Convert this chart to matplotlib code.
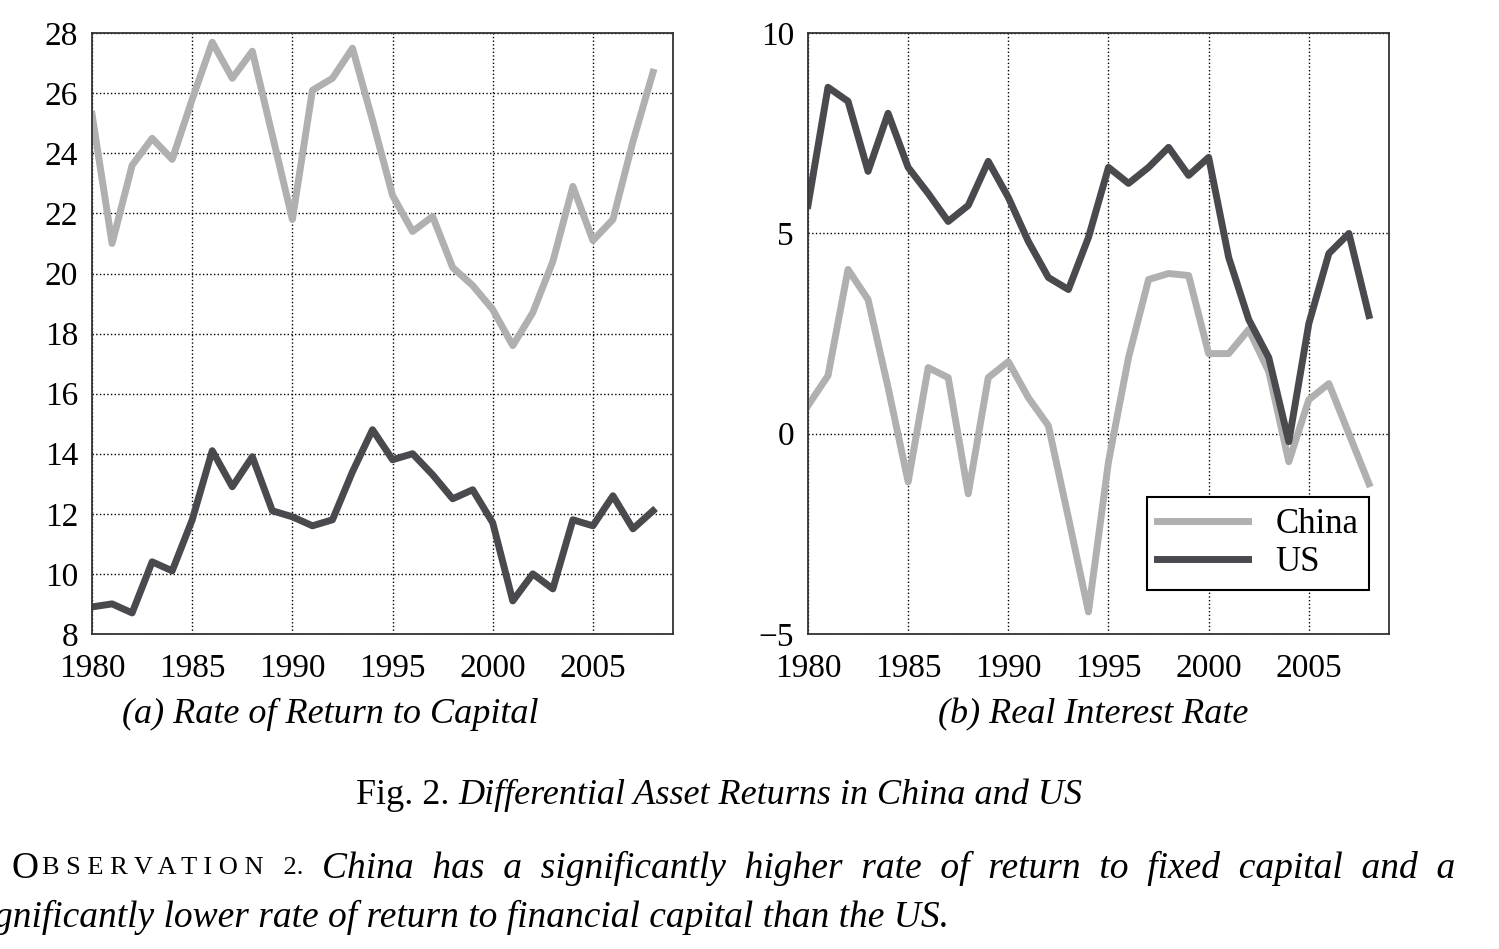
import numpy as np
import matplotlib.pyplot as plt

years = np.arange(1980, 2009)

china_ret = [25.3, 21.0, 23.6, 24.5, 23.8, 25.8, 27.7, 26.5, 27.4, 24.6, 21.8, 26.1, 26.5, 27.5, 25.1,
             22.6, 21.4, 21.9, 20.2, 19.6, 18.8, 17.6, 18.7, 20.4, 22.9, 21.1, 21.8, 24.4, 26.7]
us_ret = [8.9, 9.0, 8.7, 10.4, 10.1, 11.8, 14.1, 12.9, 13.9, 12.1, 11.9, 11.6, 11.8, 13.4, 14.8,
          13.8, 14.0, 13.3, 12.5, 12.8, 11.7, 9.1, 10.0, 9.5, 11.8, 11.6, 12.6, 11.5, 12.1]
china_rate = [0.7, 1.45, 4.1, 3.35, 1.15, -1.2, 1.65, 1.4, -1.5, 1.4, 1.8, 0.9, 0.2, -2.1, -4.45,
              -0.7, 1.9, 3.85, 4.0, 3.95, 2.0, 2.0, 2.6, 1.55, -0.7, 0.85, 1.25, 0.0, -1.25]
us_rate = [5.7, 8.65, 8.3, 6.55, 8.0, 6.65, 6.0, 5.3, 5.7, 6.8, 5.9, 4.8, 3.9, 3.6, 4.9,
           6.65, 6.25, 6.65, 7.15, 6.45, 6.9, 4.4, 2.85, 1.9, -0.2, 2.75, 4.5, 5.0, 2.95]

plt.rcParams['font.family'] = ['Liberation Serif', 'DejaVu Serif']
CHINA_C = '#b0b0b0'
US_C = '#4a4a4e'

fig = plt.figure(figsize=(14.99, 9.49), dpi=100)
ax1 = fig.add_axes([0.0614, 0.332, 0.3876, 0.633])
ax2 = fig.add_axes([0.539, 0.332, 0.3876, 0.633])

for ax in (ax1, ax2):
    ax.set_xlim(1980, 2009)
    ax.set_xticks([1980, 1985, 1990, 1995, 2000, 2005])
    ax.grid(True, color='black', linestyle=':', linewidth=1)
    ax.tick_params(labelsize=24, direction='in', length=0)
    ax.tick_params(axis='x', pad=14)
    ax.tick_params(axis='y', pad=10)
    for s in ax.spines.values():
        s.set_linewidth(1.3)
        s.set_color('#333333')

ax1.plot(years, china_ret, color=CHINA_C, lw=5)
ax1.plot(years, us_ret, color=US_C, lw=5)
ax1.set_ylim(8, 28)
ax1.set_yticks(range(8, 29, 2))

ax2.plot(years, china_rate, color=CHINA_C, lw=5, label='China')
ax2.plot(years, us_rate, color=US_C, lw=5, label='US')
ax2.set_ylim(-5, 10)
ax2.set_yticks([-5, 0, 5, 10])
ax2.set_yticklabels(['\u22125', '0', '5', '10'])
leg = ax2.legend(loc='lower right', bbox_to_anchor=(0.995, 0.045), fontsize=25, fancybox=False,
                 framealpha=1, edgecolor='black', handlelength=2.6, borderpad=0.3, labelspacing=0.15)
leg.get_frame().set_linewidth(1.5)

fig.text(0.2203, 0.247, '(a) Rate of Return to Capital', ha='center', va='center', fontsize=26, style='italic')
fig.text(0.729, 0.247, '(b) Real Interest Rate', ha='center', va='center', fontsize=26, style='italic')
fig.text(0.3055, 0.162, 'Fig. 2. ', ha='right', va='center', fontsize=26)
fig.text(0.3055, 0.162, 'Differential Asset Returns in China and US', ha='left', va='center',
         fontsize=26, style='italic')
fig.text(0.008, 0.085, 'O', ha='left', va='center', fontsize=27)
fig.text(0.028, 0.085, 'B S E R V A T I O N   2.', ha='left', va='center', fontsize=19)
fig.text(0.215, 0.085, 'China  has  a  significantly  higher  rate  of  return  to  fixed  capital  and  a',
         ha='left', va='center', fontsize=27, style='italic')
fig.text(-0.004, 0.033, 'gnificantly lower rate of return to financial capital than the US.',
         ha='left', va='center', fontsize=27, style='italic')

fig.savefig('out.png', dpi=100)
